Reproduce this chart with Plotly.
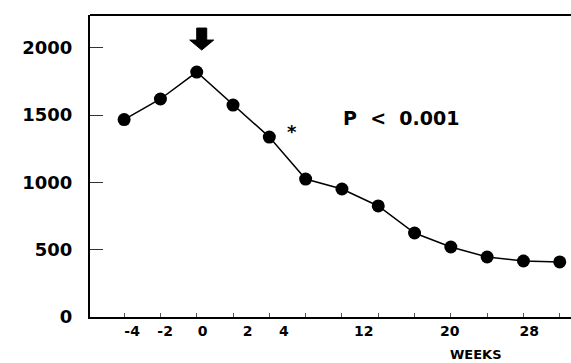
import plotly.graph_objects as go

# Study weeks relative to the start of treatment and the measured values
weeks = [-4, -2, 0, 2, 4, 6, 8, 12, 16, 20, 24, 28, 32]
values = [1467, 1620, 1820, 1575, 1337, 1025, 951, 825, 624, 520, 446, 416, 409]

# Axis labels
week_labels = ["-4", "-2", "0", "2", "4", "12", "20", "28"]
y_ticks = [0, 500, 1000, 1500, 2000]

# Points are drawn evenly spaced, one tick per visit
pos = list(range(len(weeks)))
# where each printed week label sits along the evenly spaced axis
label_pos = [0.22, 1.13, 2.16, 3.4, 4.4, 6.6, 8.97, 11.16]

FONT = "DejaVu Sans"

fig = go.Figure()
fig.add_trace(go.Scatter(
    x=pos, y=values, mode="lines+markers",
    line=dict(color="black", width=1.5),
    marker=dict(color="black", size=13),
    showlegend=False, xaxis="x", yaxis="y",
))
# invisible trace that carries the week labels axis
fig.add_trace(go.Scatter(
    x=[label_pos[0], label_pos[-1]], y=[0, 0], mode="markers",
    marker=dict(opacity=0), showlegend=False, hoverinfo="skip",
    xaxis="x2", yaxis="y",
))

peak_i = values.index(max(values))

fig.update_layout(
    width=571, height=363,
    margin=dict(l=90, r=0, t=15, b=46),
    paper_bgcolor="white", plot_bgcolor="white",
    xaxis=dict(
        range=[-0.94, 12.31], showgrid=False, zeroline=False,
        showline=True, linecolor="black", linewidth=2, mirror=False,
        tickvals=pos, ticktext=[""] * len(pos),
        ticks="inside", ticklen=4, tickwidth=1, tickcolor="#555",
    ),
    xaxis2=dict(
        range=[-0.94, 12.31], overlaying="x", side="bottom",
        showgrid=False, zeroline=False, showline=False,
        tickvals=label_pos, ticktext=week_labels, ticks="",
        tickfont=dict(family=FONT, size=14, color="black", weight="bold"),
        ticklabelstandoff=4,
    ),
    yaxis=dict(
        range=[0, 2244], showgrid=False, zeroline=False,
        showline=True, linecolor="black", linewidth=2, mirror=False,
        tickvals=y_ticks, ticks="inside", ticklen=13, tickwidth=1, tickcolor="#333",
        tickfont=dict(family=FONT, size=18, color="black", weight="bold"),
        ticklabelstandoff=12,
    ),
    shapes=[
        # top frame line
        dict(type="line", xref="paper", yref="paper", x0=0, x1=1, y0=1, y1=1,
             line=dict(color="black", width=2)),
        # block arrow marking the start of treatment
        dict(
            type="path", xref="x", yref="y",
            xsizemode="pixel", ysizemode="pixel",
            xanchor=pos[peak_i], yanchor=values[peak_i],
            path="M 5 22 L -7 32 L 0 32 L 0 44 L 10 44 L 10 32 L 17 32 Z",
            fillcolor="black", line=dict(color="black", width=1),
        ),
    ],
    annotations=[
        dict(x=4, y=values[4], text="<b>*</b>", showarrow=False,
             xshift=23, yshift=6, font=dict(family=FONT, size=18, color="black")),
        dict(x=7.63, y=1478, text="<b>P  <  0.001</b>", showarrow=False,
             xanchor="center", font=dict(family=FONT, size=19, color="black")),
        dict(x=(476 - 90) / 481, y=-0.125, xref="paper", yref="paper",
             xanchor="center", yanchor="middle", text="<b>WEEKS</b>",
             showarrow=False, font=dict(family=FONT, size=13, color="black")),
    ],
)

fig.write_html("out.html")
